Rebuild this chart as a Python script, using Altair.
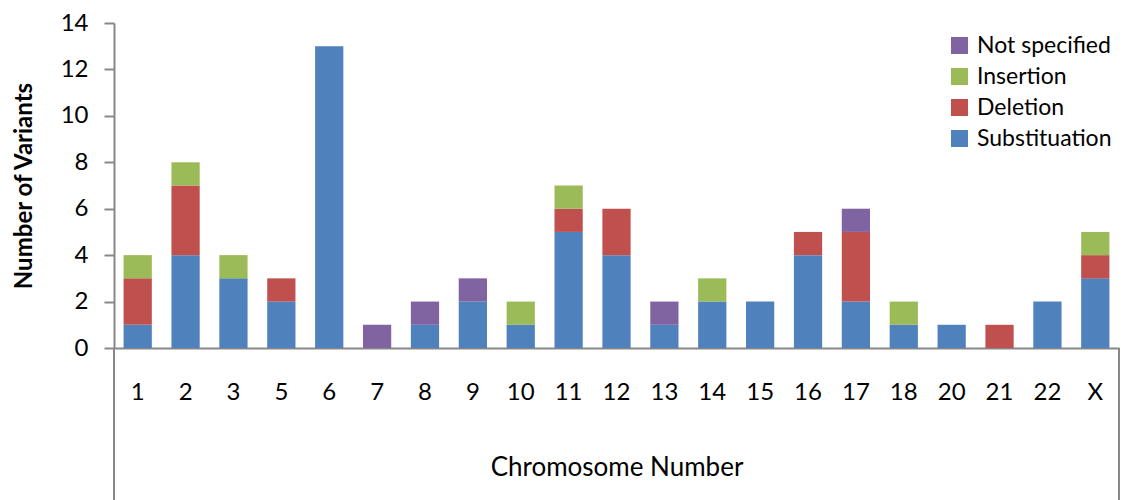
import altair as alt
import pandas as pd

chromosomes = ["1", "2", "3", "5", "6", "7", "8", "9", "10", "11", "12", "13", "14", "15", "16", "17", "18", "20", "21", "22", "X"]
substitution = [1, 4, 3, 2, 13, 0, 1, 2, 1, 5, 4, 1, 2, 2, 4, 2, 1, 1, 0, 2, 3]
deletion =     [2, 3, 0, 1, 0, 0, 0, 0, 0, 1, 2, 0, 0, 0, 1, 3, 0, 0, 1, 0, 1]
insertion =    [1, 1, 1, 0, 0, 0, 0, 0, 1, 1, 0, 0, 1, 0, 0, 0, 1, 0, 0, 0, 1]
not_specified =[0, 0, 0, 0, 0, 1, 1, 1, 0, 0, 0, 1, 0, 0, 0, 1, 0, 0, 0, 0, 0]

series = {
    "Substituation": substitution,
    "Deletion": deletion,
    "Insertion": insertion,
    "Not specified": not_specified,
}
legend_order = ["Not specified", "Insertion", "Deletion", "Substituation"]
colors = ["#8064A2", "#9BBB59", "#C0504D", "#4F81BD"]

rows = []
for k, (name, vals) in enumerate(series.items()):
    for c, v in zip(chromosomes, vals):
        rows.append({"chrom": c, "type": name, "count": v, "stackorder": k})
df = pd.DataFrame(rows)

FONT = "Lato"
W, H = 1005, 325

bars = alt.Chart(df).mark_bar().encode(
    x=alt.X("chrom:N", sort=chromosomes, title="Chromosome Number",
            scale=alt.Scale(paddingInner=0.41, paddingOuter=0.2),
            axis=alt.Axis(labelAngle=0, labelFontSize=24, labelFont=FONT, labelColor="#000",
                          labelPadding=32, ticks=False, domainColor="#888888", domainWidth=2,
                          titleFont=FONT, titleFontSize=26, titleFontWeight="normal",
                          titleColor="#000", titlePadding=50)),
    y=alt.Y("count:Q", stack="zero", title="Number of Variants",
            scale=alt.Scale(domain=[0, 14], nice=False),
            axis=alt.Axis(values=[0, 2, 4, 6, 8, 10, 12, 14], grid=False, labelFontSize=24,
                          labelFont=FONT, labelColor="#000", tickSize=10, tickColor="#888888",
                          tickWidth=2, domainColor="#888888", domainWidth=2, labelPadding=16,
                          titleFont=FONT, titleFontSize=24, titleFontWeight="bold",
                          titleColor="#000", titlePadding=24)),
    color=alt.Color("type:N", scale=alt.Scale(domain=legend_order, range=colors),
                    legend=alt.Legend(title=None, orient="none", legendX=834, legendY=11,
                                      symbolType="square", symbolSize=290, symbolStrokeWidth=0,
                                      labelFont=FONT, labelFontSize=23, labelColor="#000",
                                      rowPadding=7, labelOffset=6)),
    order=alt.Order("stackorder:Q", sort="ascending"),
)

frame_df = pd.DataFrame({"side": ["left", "right"], "pos": [0, W]})
frame = alt.Chart(frame_df).mark_rule(color="#888888", strokeWidth=2, clip=False).encode(
    x=alt.X("pos:Q", scale=alt.Scale(domain=[0, W], range=[0, W]), axis=None),
    y=alt.value(H),
    y2=alt.value(H + 152),
)

chart = alt.layer(bars, frame).resolve_scale(x="independent").properties(
    width=W, height=H,
    autosize=alt.AutoSizeParams(type="none"),
    padding={"left": 106, "top": 15, "right": 2, "bottom": 152},
).configure_view(stroke=None)

chart.save("out.html", embed_options={"renderer": "svg", "actions": False})
